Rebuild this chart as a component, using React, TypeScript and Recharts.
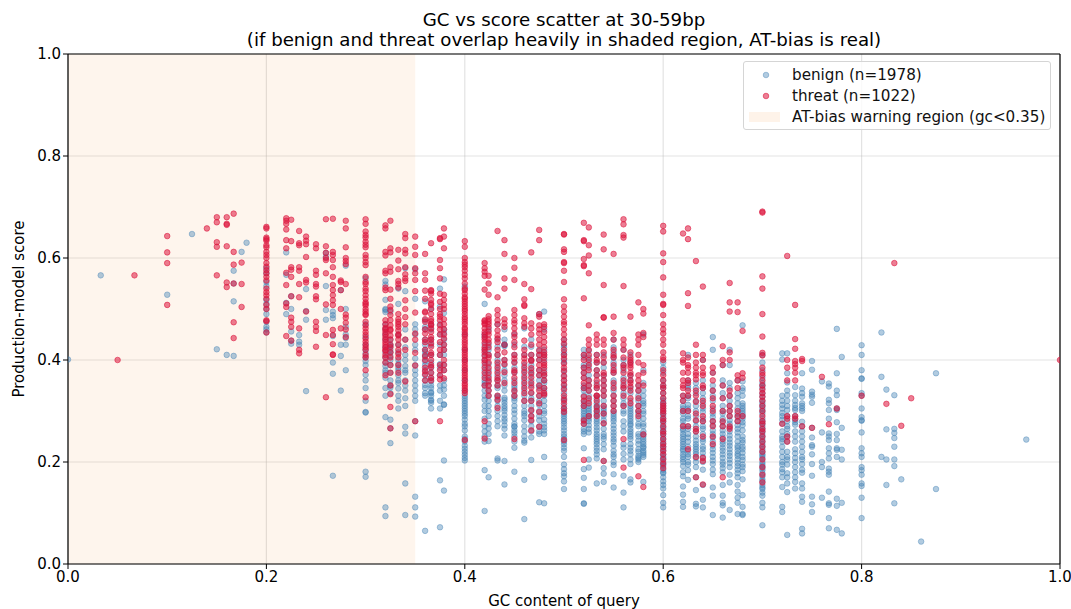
import { ScatterChart, Scatter, XAxis, YAxis, CartesianGrid, ReferenceArea, ReferenceLine } from "recharts";

type Column = [number, number[]];

const ticks = [0, 0.2, 0.4, 0.6, 0.8, 1];

const benignColumns: Column[] = [
  [0, [.401]], [.033, [.566]], [.1, [.528]], [.125, [.647]], [.15, [.421]], [.16, [.41]],
  [.167, [.575, .55, .515, .408]], [.175, [.612]], [.18, [.63]],
  [.2, [.58, .57, .553, .545, .518, .51, .5, .49, .475, .465, .46, .454]],
  [.22, [.611, .567, .512, .49]], [.225, [.525, .5, .456, .438, .432]], [.233, [.449, .436, .43]],
  [.24, [.539, .496, .479, .339]], [.26, [.61, .602, .545, .498, .479]],
  [.267, [.495, .488, .482, .447, .395, .373, .173]], [.275, [.537, .43, .408, .34]],
  [.28, [.585, .5, .465, .45, .443, .43, .38]],
  [.3, [.413, .405, .398, .39, .371, .32, .298, .297, .181, .171, .56]],
  [.32, [.555, .548, .518, .5, .498, .494, .47, .44, .425, .405, .395, .388, .375, .288, .111, .094]],
  [.325, [.495, .44, .427, .415, .408, .35, .346, .283, .266, .237]],
  [.333, [.54, .51, .45, .392, .38, .37, .344, .305, .36]],
  [.34, [.58, .535, .46, .425, .41, .388, .375, .36, .325, .269, .256, .158, .096]],
  [.35, [.578, .52, .47, .46, .403, .371, .36, .34, .28, .252, .132, .111, .093]],
  [.36, [.515, .478, .465, .416, .406, .351, .335, .397, .37, .065]],
  [.366, [.5, .47, .395, .385, .35, .335, .322, .316, .305, .337, .32]],
  [.375, [.54, .505, .392, .385, .305, .164, .072]],
  [.379, [.558, .492, .453, .42, .391, .342, .312, .313, .203, .144]],
  [.4, [.32, .305, .3, .295, .283, .27, .262, .24, .232, .226, .22, .214, .208, .203, .544]],
  [.42, [.51, .45, .445, .4, .37, .355, .34, .322, .285, .184, .104]],
  [.424, [.46, .42, .392, .35, .34, .266, .241, .17]],
  [.433, [.47, .426, .4, .36, .345, .327, .3, .207, .203]],
  [.44, [.46, .44, .43, .427, .43, .43, .36, .34, .326, .322, .316, .292, .272, .252, .202, .156]],
  [.45, [.45, .396, .36, .35, .338, .32, .31, .302, .27, .257, .24, .228, .181, .269]],
  [.46, [.462, .426, .38, .36, .32, .295, .282, .238, .242, .165, .088]],
  [.467, [.44, .426, .39, .372, .335, .31, .3, .28, .248, .204]],
  [.475, [.49, .42, .38, .345, .33, .312, .29, .282, .26, .121]],
  [.48, [.495, .46, .42, .37, .355, .34, .32, .3, .283, .262, .255, .21, .17, .119]],
  [.5, [.44, .425, .41, .395, .37, .35, .335, .32, .31, .3, .29, .28, .262, .25, .228, .222, .21, .195, .186, .178, .172, .162, .147]],
  [.52, [.42, .405, .385, .365, .345, .33, .315, .305, .295, .28, .265, .255, .227, .186, .169, .147, .119, .118]],
  [.525, [.418, .395, .37, .35, .33, .31, .3, .285, .272, .258, .205, .189]],
  [.533, [.41, .38, .355, .33, .315, .3, .292, .28, .262, .25, .24, .228, .215, .207, .158]],
  [.54, [.41, .385, .36, .34, .32, .305, .29, .275, .255, .245, .225, .202, .188, .177, .161]],
  [.55, [.44, .425, .405, .385, .36, .34, .32, .3, .29, .28, .265, .252, .24, .222, .21, .2, .194, .176, .15]],
  [.56, [.42, .39, .365, .345, .325, .3, .27, .228, .216, .205, .173, .14, .111]],
  [.567, [.41, .37, .345, .32, .31, .3, .29, .28, .272, .26, .25, .235, .222, .205, .196, .166, .16]],
  [.575, [.35, .33, .31, .295, .275, .255, .242, .22, .208, .2]],
  [.58, [.45, .38, .355, .33, .315, .3, .285, .27, .255, .245, .235, .228, .222, .214, .161]],
  [.6, [.395, .375, .35, .335, .32, .31, .3, .29, .28, .268, .26, .25, .24, .23, .222, .215, .207, .2, .192, .185, .178, .17, .162, .155, .148, .135, .12, .111]],
  [.62, [.33, .31, .3, .285, .272, .262, .25, .24, .23, .222, .21, .192, .18, .172, .152, .136, .122, .112]],
  [.625, [.41, .36, .345, .325, .312, .3, .285, .265, .248, .23, .215, .2, .184, .165]],
  [.633, [.355, .335, .31, .29, .27, .25, .235, .225, .215, .2, .17, .145, .118, .113]],
  [.64, [.4, .36, .335, .315, .298, .28, .265, .245, .23, .218, .185, .155, .126, .111]],
  [.65, [.445, .42, .375, .35, .33, .305, .288, .272, .255, .24, .225, .21, .196, .176, .15, .134, .096]],
  [.66, [.39, .36, .335, .31, .295, .278, .262, .248, .235, .222, .208, .195, .18, .155, .134, .12, .115, .091]],
  [.667, [.42, .39, .355, .33, .31, .29, .275, .26, .245, .232, .218, .205, .19, .175, .16, .106]],
  [.675, [.36, .335, .315, .295, .28, .265, .25, .232, .222, .212, .198, .185, .17, .155, .142, .13, .12, .098]],
  [.68, [.468, .358, .345, .34, .315, .305, .295, .285, .272, .25, .243, .225, .21, .195, .182, .166, .135, .112, .096, .098]],
  [.7, [.41, .395, .38, .365, .355, .345, .335, .32, .31, .3, .285, .275, .265, .255, .245, .235, .225, .215, .208, .2, .192, .184, .172, .162, .155, .147, .14, .134, .12, .111, .076]],
  [.72, [.413, .401, .33, .312, .296, .283, .25, .24, .22, .195, .186, .17, .151, .112, .102]],
  [.725, [.413, .374, .356, .331, .302, .29, .265, .25, .22, .205, .178, .158, .141, .057]],
  [.733, [.347, .331, .312, .302, .283, .273, .25, .217, .2, .18, .161, .148]],
  [.74, [.374, .344, .328, .315, .305, .279, .25, .23, .21, .196, .179, .158, .148, .132, .122, .069, .06]],
  [.75, [.398, .381, .338, .332, .328, .316, .267, .248, .233, .23, .215, .196, .173, .132, .117, .102]],
  [.76, [.358, .258, .2, .19, .13]],
  [.767, [.354, .348, .322, .315, .302, .285, .256, .25, .243, .227, .217, .207, .187, .181, .175, .142, .119, .116, .09, .07]],
  [.775, [.461, .374, .34, .331, .305, .302, .278, .255, .243, .227, .224, .21, .128, .114, .067]],
  [.78, [.406, .267, .224, .205, .12, .06]],
  [.8, [.429, .41, .38, .364, .363, .335, .33, .305, .288, .282, .281, .258, .227, .217, .21, .19, .184, .175, .158, .153, .13, .09]],
  [.82, [.454, .367, .21]], [.825, [.342, .264, .205, .155]],
  [.833, [.331, .265, .257, .247, .23, .205, .192, .119]], [.84, [.166]], [.86, [.044]],
  [.875, [.374, .147]], [.966, [.244]],
];

// second pass over the crowded columns, where marks sit on top of each other
const benignCrowded: Column[] = [
  [.3, [.47, .445, .43, .42, .36, .345]], [.32, [.46, .45, .415, .38, .365, .345, .33]],
  [.325, [.43, .42, .4, .39, .375, .36, .335]], [.333, [.43, .415, .4, .385, .355, .33, .32]],
  [.34, [.44, .4, .38, .35, .34, .31]], [.35, [.45, .43, .42, .39, .38, .35, .33, .32]],
  [.36, [.46, .44, .43, .42, .41, .39, .38, .36, .345, .33]],
  [.366, [.46, .44, .43, .41, .375, .365, .358, .345, .33]],
  [.375, [.47, .45, .43, .41, .37, .35, .34, .32]], [.379, [.46, .44, .43, .41, .38, .36, .35, .33]],
  [.4, [.45, .42, .4, .38, .36, .34, .33, .325, .315, .31, .29, .275, .25, .245]],
  [.42, [.43, .42, .41, .39, .38, .36, .35, .33, .31, .3, .27, .26, .25, .24]],
  [.424, [.43, .41, .38, .37, .36, .33, .32, .31, .3, .29, .275, .255]],
  [.433, [.44, .41, .39, .38, .37, .35, .33, .32, .31, .29, .28, .27]],
  [.44, [.4, .39, .38, .37, .35, .31, .305, .3, .285, .28, .265]],
  [.45, [.43, .41, .385, .375, .345, .33, .325, .295, .285, .275, .262, .25]],
  [.46, [.41, .39, .37, .35, .34, .33, .31, .3, .29, .27, .26, .25]],
  [.467, [.41, .4, .38, .36, .35, .325, .32, .29, .27, .26]],
  [.475, [.41, .4, .37, .36, .35, .32, .3, .27, .255]],
  [.48, [.41, .4, .38, .36, .345, .33, .31, .295, .275, .268]],
  [.5, [.43, .415, .4, .38, .36, .345, .325, .305, .295, .285, .275, .268, .255, .245, .24, .235]],
  [.52, [.41, .39, .375, .35, .34, .32, .31, .3, .29, .285, .275, .26]],
  [.525, [.405, .385, .36, .34, .32, .305, .295, .29, .28, .265]],
  [.533, [.395, .37, .345, .325, .31, .305, .295, .285, .275, .268, .255, .245, .235, .222]],
  [.54, [.395, .37, .35, .33, .31, .3, .295, .282, .265, .25, .235]],
  [.55, [.415, .395, .375, .35, .33, .31, .295, .285, .272, .258, .245, .232, .215]],
  [.56, [.4, .38, .355, .335, .315, .31, .295, .28, .26, .235]],
  [.567, [.395, .36, .335, .305, .295, .285, .275, .265, .255, .245, .228, .215]],
  [.575, [.34, .32, .3, .285, .27, .25, .235, .225, .212, .205]],
  [.58, [.34, .32, .31, .295, .275, .26, .25, .24, .23, .218, .21]],
  [.6, [.385, .36, .345, .325, .315, .305, .295, .285, .275, .265, .255, .245, .235, .226, .21, .195, .18]],
  [.62, [.32, .305, .295, .28, .265, .255, .245, .235, .225, .215, .205, .2]],
  [.625, [.35, .33, .305, .29, .27, .255, .24, .222, .21, .195]],
  [.633, [.345, .32, .3, .28, .26, .242, .23, .22, .208, .19]],
  [.64, [.345, .325, .305, .285, .27, .255, .24, .225, .21, .2]],
  [.65, [.34, .32, .295, .28, .262, .248, .232, .218, .203, .185]],
  [.66, [.35, .325, .3, .285, .27, .255, .24, .228, .215, .2, .188]],
  [.667, [.345, .32, .3, .282, .268, .252, .238, .225, .212, .198]],
  [.675, [.325, .305, .288, .272, .258, .24, .228, .216, .205, .192, .178]],
  [.68, [.33, .31, .3, .29, .278, .262, .238, .23, .218, .204, .19]],
  [.7, [.35, .328, .315, .305, .295, .28, .27, .26, .25, .24, .23, .22, .212, .196, .188, .178, .166, .15]],
  [.72, [.32, .305, .29, .275, .26, .245, .23, .21, .2, .18]],
  [.725, [.34, .32, .31, .28, .27, .255, .24, .21, .195, .17]],
  [.733, [.32, .306, .29, .278, .26, .24, .225, .208, .19, .17]],
  [.74, [.335, .31, .3, .27, .26, .24, .22, .205, .185]],
];

const threatColumns: Column[] = [
  [.05, [.4]], [.067, [.566]], [.1, [.643, .611, .59, .508]], [.14, [.658]],
  [.15, [.68, .67, .631, .622, .566]], [.16, [.68, .667, .665, .623, .552, .543]],
  [.167, [.687, .612, .587, .55, .474, .443]], [.175, [.591, .549, .504]],
  [.2, [.661, .658, .64, .637, .634, .625, .621, .612, .606, .6, .59, .583, .576, .57, .563, .556, .54, .533, .527, .52, .508, .5, .478, .476, .454]],
  [.22, [.678, .673, .667, .656, .635, .619, .571, .547, .511, .504, .447]],
  [.225, [.675, .633, .582, .577, .563, .525, .483, .475, .465, .438]],
  [.233, [.653, .629, .625, .582, .575, .549, .523, .462, .42, .413]],
  [.24, [.642, .634, .627, .602, .557, .552, .495]],
  [.25, [.627, .619, .575, .567, .549, .544, .525, .519, .475, .465, .457, .426]],
  [.26, [.676, .623, .61, .6, .596, .57, .509, .449, .327]],
  [.267, [.677, .612, .606, .596, .582, .563, .547, .537, .527, .517, .508, .459, .449, .431, .411, .41]],
  [.275, [.556, .553, .537, .5, .462]],
  [.28, [.673, .658, .621, .6, .594, .588, .549, .489, .483, .473, .46, .445]],
  [.3, [.676, .667, .652, .645, .64, .632, .626, .621, .606, .6, .592, .586, .563, .553, .549, .54, .535, .527, .52, .513, .507, .5, .495, .462, .455, .449, .436, .43, .425, .42, .327]],
  [.32, [.664, .658, .612, .605, .575, .57, .542, .537, .478, .47, .463, .455, .445, .435, .425, .418, .41]],
  [.325, [.673, .619, .611, .582, .573, .538, .52, .505, .498, .488, .478, .468, .458, .448, .425, .333, .308, .266]],
  [.333, [.616, .595, .578, .555, .549, .542, .49, .48, .47, .458, .448, .44, .412]],
  [.34, [.647, .639, .616, .609, .582, .568, .56, .555, .517, .5, .484, .47, .44, .42, .358]],
  [.35, [.642, .622, .606, .58, .57, .557, .535, .493, .452, .44, .414, .389, .28]],
  [.36, [.608, .57, .557, .536, .495, .493, .475, .452, .435, .408, .378, .372, .36]],
  [.366, [.629, .537, .535, .53, .518, .511, .508, .48, .476, .468, .462, .455, .44, .433, .426, .414, .41, .386, .365, .36]],
  [.375, [.639, .637, .596, .58, .56, .514, .49, .485, .478, .468, .435, .41, .37, .362, .28]],
  [.379, [.658, .642, .619, .528, .518, .508, .48, .47, .442, .43, .38, .364]],
  [.4, [.633, .622, .6, .592, .587, .582, .575, .567, .56, .55, .54, .537, .53, .523, .52, .515, .51, .505, .5, .496, .49, .484, .48, .475, .47, .463, .46, .455, .45, .446, .44, .435, .43, .424, .42, .415, .41, .405, .4, .396, .39, .385, .38, .375, .37, .365, .36, .354, .35, .345, .34, .335, .243]],
  [.42, [.59, .58, .573, .565, .538, .478, .476, .472, .462, .455, .45, .44, .434, .415, .408, .395, .385, .28, .246]],
  [.424, [.565, .55, .528, .486, .48, .47, .464, .456, .44, .434, .405, .395, .385, .365, .358, .33]],
  [.433, [.653, .523, .498, .488, .478, .458, .448, .442, .42, .395, .385, .375, .365, .322, .306]],
  [.44, [.635, .608, .56, .54, .472, .43, .392, .376]],
  [.45, [.6, .581, .557, .498, .488, .478, .472, .462, .452, .435, .41, .403, .376, .365, .355, .245]],
  [.46, [.549, .519, .506, .508, .482, .472, .438, .41, .403, .376, .365, .345, .335]],
  [.467, [.611, .539, .472, .462, .41, .398, .384, .366, .346, .336, .302, .282, .262]],
  [.475, [.655, .635, .49, .485, .468, .452, .44, .43, .418, .4, .39, .35, .33, .298, .269]],
  [.48, [.47, .455, .445, .435, .425, .415, .405, .395, .385, .37, .335, .332]],
  [.5, [.647, .646, .617, .612, .592, .59, .575, .553, .519, .505, .495, .485, .44, .432, .42, .41, .403, .393, .378, .368, .352, .342, .322, .305, .243]],
  [.52, [.669, .635, .633, .598, .586, .584, .521, .4, .385, .365, .345, .328, .282, .204]],
  [.525, [.66, .625, .605, .57, .468, .44, .42, .41, .39, .35, .325, .315]],
  [.533, [.45, .44, .41, .4, .38, .36, .35, .33, .32, .308]],
  [.54, [.646, .617, .547, .484, .483, .44, .43, .415, .405, .375, .36, .34, .33, .276, .202]],
  [.55, [.608, .485, .453, .44, .42, .405, .39, .375, .355, .33, .31]],
  [.56, [.676, .666, .645, .64, .545, .44, .42, .405, .39, .375, .36, .345, .245, .189]],
  [.567, [.485, .415, .405, .395, .385, .375, .36, .348, .325]],
  [.575, [.513, .45, .43, .41, .395, .36, .34, .325, .31, .29, .172]],
  [.58, [.5, .491, .453, .445, .39, .375, .35, .254, .151]],
  [.6, [.663, .652, .609, .592, .562, .528, .51, .508, .488, .47, .46, .452, .44, .43, .415, .405, .37, .36, .345, .325, .315, .305, .295, .28, .27, .26, .245, .236, .222, .205, .197, .188]],
  [.62, [.648, .413, .4, .375, .36, .345, .33]],
  [.625, [.658, .637, .531, .506, .405, .39, .375, .355, .34, .27, .225]],
  [.633, [.594, .43, .41, .395, .385, .37, .362, .34, .318, .282, .265, .21, .17]],
  [.64, [.544, .41, .4, .385, .37, .345, .32, .29, .25, .208, .202, .156]],
  [.65, [.385, .375, .34, .325, .31, .28, .25, .235]],
  [.66, [.427, .39, .325, .28, .27, .245, .17]],
  [.667, [.551, .513, .495, .415, .4, .34, .31, .29, .27]],
  [.675, [.513, .494, .37, .345, .3, .28]],
  [.68, [.457, .374, .365, .29]],
  [.7, [.691, .689, .564, .54, .49, .446, .414, .409, .385, .375, .36, .342, .335, .328, .32, .3, .29, .275, .265, .26, .24, .23, .205, .175, .16]],
  [.72, [.275]], [.725, [.604, .4, .385, .36, .29, .285, .25, .24]],
  [.733, [.508, .441, .422, .398, .392, .385, .375, .36, .29, .285]],
  [.74, [.402, .398, .27]], [.75, [.267]], [.76, [.367]], [.767, [.274]], [.775, [.305]],
  [.8, [.33]], [.825, [.314]], [.833, [.59]], [.84, [.271]], [.85, [.325]], [1, [.4]],
];

const threatCrowded: Column[] = [
  [.3, [.51, .49, .488, .475, .468, .442, .41, .405, .38]], [.32, [.46, .45, .44, .43, .42, .405, .395, .37]],
  [.325, [.46, .44, .43, .415, .405, .39, .375, .35]], [.333, [.475, .465, .45, .43, .42, .405, .39, .375]],
  [.36, [.52, .48, .46, .44, .42, .4, .385]], [.366, [.5, .49, .47, .445, .4, .39, .375]],
  [.375, [.53, .5, .46, .45, .42, .39, .38]], [.379, [.5, .46, .45, .42, .4, .39]],
  [.42, [.47, .445, .425, .42, .4, .375, .365, .35]], [.424, [.475, .45, .425, .41, .375, .35, .34]],
  [.433, [.47, .435, .41, .36, .35, .33]], [.44, [.48, .465, .415, .4, .355]],
  [.45, [.445, .425, .395, .38, .34, .33]], [.46, [.465, .42, .395, .385, .355, .32]],
  [.467, [.45, .43, .4, .375, .355, .32, .29]], [.475, [.46, .41, .38, .37, .34, .315]],
  [.48, [.465, .41, .39, .375, .36, .345]], [.5, [.475, .47, .46, .45, .385, .36, .33, .315, .298]],
  [.52, [.41, .375, .355, .32, .31, .275]], [.525, [.43, .4, .38, .36, .34, .29]],
  [.533, [.43, .395, .37, .345, .33, .3, .29]], [.54, [.395, .37, .35, .31, .295]],
  [.55, [.41, .38, .345, .32, .3]], [.56, [.43, .385, .35, .33, .31]],
  [.567, [.4, .39, .37, .355, .34, .315]], [.575, [.44, .37, .35, .3]],
  [.6, [.4, .38, .35, .335, .31, .3, .285, .255, .23, .215]], [.625, [.385, .36, .33, .3]],
  [.62, [.395, .35, .32, .3, .27]], [.633, [.375, .33, .295, .26]], [.64, [.375, .35, .31, .28]],
  [.65, [.36, .3, .27]], [.66, [.4, .35, .3]], [.667, [.33, .3, .265]], [.675, [.36, .29]],
  [.7, [.37, .35, .31, .28, .25, .22, .19]],
];

function flatten(columns: Column[]) {
  return columns.flatMap(([gc, scores]) => scores.map((score) => ({ gc, score })));
}

const benignPoints = flatten([...benignColumns, ...benignCrowded]);
const threatPoints = flatten([...threatColumns, ...threatCrowded]);

const font = "'DejaVu Sans', sans-serif";
const BENIGN = "#4682b4";
const THREAT = "#dc143c";
const SHADE = "#f28e2b";

function dot(color: string, opacity: number) {
  return (props: any) => (
    <circle cx={props.cx} cy={props.cy} r={2.8} fill={color} fillOpacity={opacity} stroke={color} strokeOpacity={opacity} strokeWidth={1} />
  );
}

function LegendRow({ top, marker, label }: { top: number; marker: any; label: string }) {
  return (
    <div style={{ position: "absolute", left: 0, top, width: "100%", height: 20 }}>
      {marker}
      <span style={{ position: "absolute", left: 48, top: 0, lineHeight: "20px", whiteSpace: "nowrap" }}>{label}</span>
    </div>
  );
}

function legendDot(color: string, opacity: number) {
  return (
    <svg width={10} height={10} style={{ position: "absolute", left: 17, top: 5 }}>
      <circle cx={5} cy={5} r={2.8} fill={color} fillOpacity={opacity} stroke={color} strokeOpacity={opacity} />
    </svg>
  );
}

export default function App() {
  return (
    <div style={{ position: "absolute", left: 0, top: 0, width: 1071, height: 609, background: "#fff", fontFamily: font, color: "#000", overflow: "hidden" }}>
      <div style={{ position: "absolute", left: 68, width: 992, top: 10, textAlign: "center", fontSize: 18.2, lineHeight: "20px" }}>
        GC vs score scatter at 30-59bp
        <br />
        (if benign and threat overlap heavily in shaded region, AT-bias is real)
      </div>
      <ScatterChart width={1071} height={609} margin={{ top: 54, right: 11, bottom: 15, left: 28 }}>
        <ReferenceArea x1={0} x2={0.35} y1={0} y2={1} fill={SHADE} fillOpacity={0.085} stroke="none" />
        <CartesianGrid stroke="#b0b0b0" strokeOpacity={0.35} strokeWidth={1.2} verticalValues={ticks} horizontalValues={ticks} />
        <XAxis
          type="number"
          dataKey="gc"
          domain={[0, 1]}
          ticks={ticks}
          allowDataOverflow
          height={30}
          tickFormatter={(v: number) => v.toFixed(1)}
          tick={{ fill: "#000", fontSize: 15, fontFamily: font }}
          tickSize={5}
          tickLine={{ stroke: "#000" }}
          axisLine={{ stroke: "#000", strokeWidth: 1.2 }}
          label={{ value: "GC content of query", position: "insideBottom", offset: -12, fill: "#000", fontSize: 15, fontFamily: font }}
        />
        <YAxis
          type="number"
          dataKey="score"
          domain={[0, 1]}
          ticks={ticks}
          allowDataOverflow
          width={40}
          tickFormatter={(v: number) => v.toFixed(1)}
          tick={{ fill: "#000", fontSize: 15, fontFamily: font }}
          tickSize={5}
          tickLine={{ stroke: "#000" }}
          axisLine={{ stroke: "#000", strokeWidth: 1.2 }}
          label={{ value: "Production-model score", angle: -90, position: "insideLeft", offset: -9, style: { textAnchor: "middle" }, fill: "#000", fontSize: 15, fontFamily: font }}
        />
        <Scatter data={benignPoints} shape={dot(BENIGN, 0.42)} isAnimationActive={false} />
        <Scatter data={threatPoints} shape={dot(THREAT, 0.55)} isAnimationActive={false} />
        <ReferenceLine x={1} stroke="#000" strokeWidth={1.2} />
        <ReferenceLine y={1} stroke="#000" strokeWidth={1.2} />
      </ScatterChart>
      <div style={{ position: "absolute", left: 743, top: 61, width: 306, height: 67, border: "1px solid #d5d5d5", borderRadius: 3, background: "rgba(255,255,255,0.8)", fontSize: 15.2, color: "#111" }}>
        <LegendRow top={3} marker={legendDot(BENIGN, 0.42)} label="benign (n=1978)" />
        <LegendRow top={24} marker={legendDot(THREAT, 0.55)} label="threat (n=1022)" />
        <LegendRow
          top={45}
          marker={<span style={{ position: "absolute", left: 5, top: 5, width: 31, height: 10, background: SHADE, opacity: 0.1 }} />}
          label="AT-bias warning region (gc<0.35)"
        />
      </div>
    </div>
  );
}
